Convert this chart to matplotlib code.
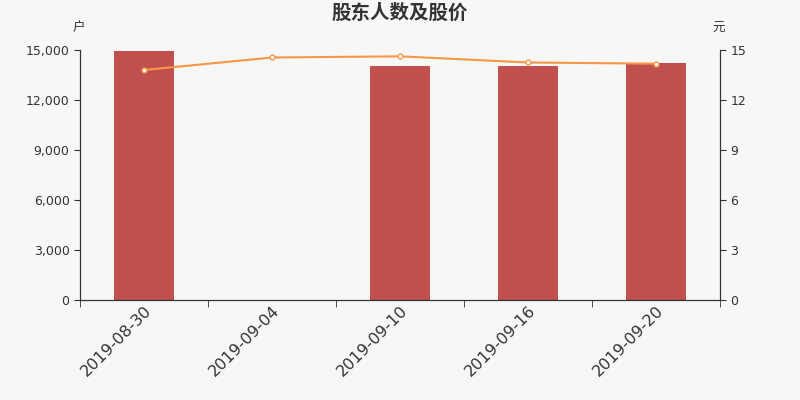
import matplotlib.pyplot as plt
import numpy as np

plt.rcParams['font.family'] = ['DejaVu Sans', 'Noto Sans CJK SC']

dates = ['2019-08-30', '2019-09-04', '2019-09-10', '2019-09-16', '2019-09-20']
holders = [14940, 0, 14040, 14040, 14220]
price = [13.80, 14.55, 14.62, 14.25, 14.18]

bg = '#f7f7f7'
fig = plt.figure(figsize=(8, 4), dpi=100, facecolor=bg)
ax = fig.add_axes([0.1, 0.25, 0.8, 0.625], facecolor=bg)
ax2 = ax.twinx()

x = np.arange(len(dates))
ax.bar(x, holders, width=60 / 128, color='#c0504d', zorder=2)
ax2.plot(x, price, color='#f79646', lw=1.5, marker='o', ms=3.5,
         mfc='white', mec='#f79646', mew=1, zorder=3)

ax.set_xlim(-0.5, len(dates) - 0.5)
ax.set_ylim(0, 15000)
ax2.set_ylim(0, 15)
ax.set_yticks(range(0, 15001, 3000))
ax.set_yticklabels([f'{v:,}' for v in range(0, 15001, 3000)])
ax2.set_yticks(range(0, 16, 3))

ax.set_xticks(x)
ax.set_xticklabels(dates, rotation=45, ha='right', rotation_mode='anchor',
                   fontsize=11.5, color='#333333')
ax.set_xticks(np.arange(-0.5, len(dates)), minor=True)
ax.tick_params(axis='x', which='major', length=0, pad=2)
ax.tick_params(axis='x', which='minor', length=5, color='#333333')

for a in (ax, ax2):
    a.spines['top'].set_visible(False)
    for s in ('left', 'right', 'bottom'):
        a.spines[s].set_color('#333333')
    a.tick_params(axis='y', labelsize=9, colors='#333333', length=4)

fig.text(0.5, 0.967, '股东人数及股价', ha='center', va='center', fontsize=14,
         fontweight='bold', color='#333333', family=['Noto Sans CJK SC'])
fig.text(0.098, 0.93, '户', ha='center', va='center', fontsize=9,
         color='#333333', family=['Noto Sans CJK SC'])
fig.text(0.898, 0.93, '元', ha='center', va='center', fontsize=9,
         color='#333333', family=['Noto Sans CJK SC'])

fig.savefig('out.png', dpi=100, facecolor=bg)
